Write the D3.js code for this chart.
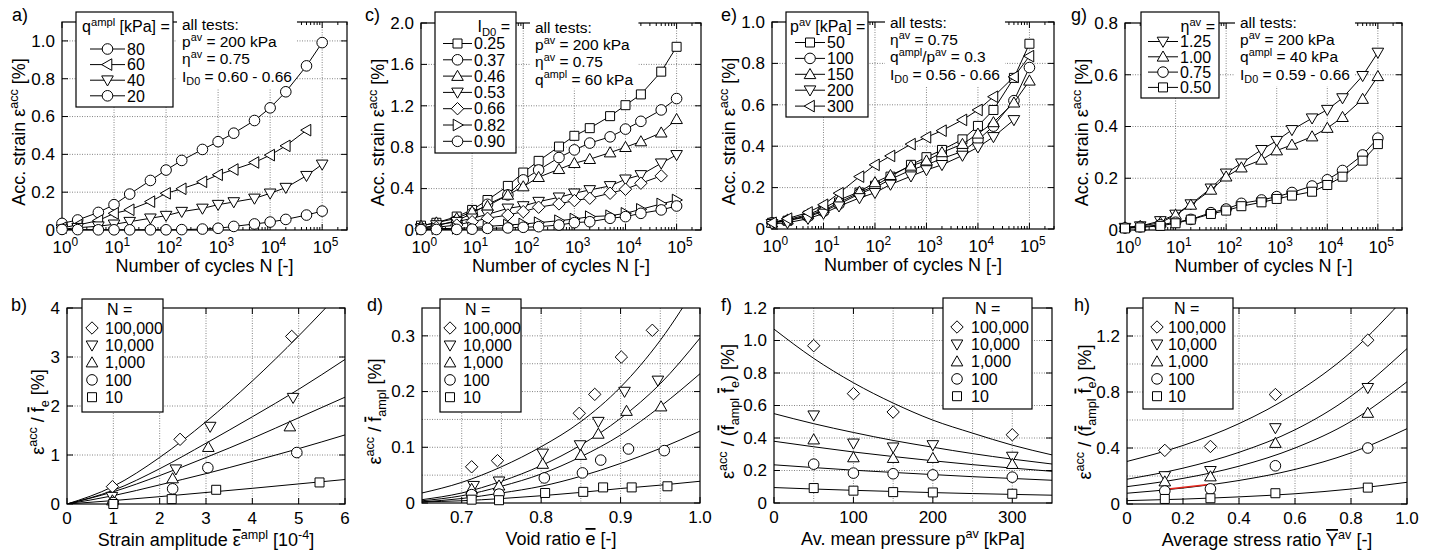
<!DOCTYPE html>
<html>
<head>
<meta charset="UTF-8">
<script src="https://d3js.org/d3.v7.min.js"></script>
<style>
  body { margin: 0; background: #fff; }
  svg { display: block; font-family: "Liberation Sans", Arial, Helvetica, sans-serif; }
  text { white-space: pre; }
</style>
</head>
<body>
<svg id="fig" width="1431" height="555"></svg>
<script>
// ---------------- data ----------------
const cycles = [1, 2, 5, 10, 20, 50, 100, 200, 500, 1000, 2000, 5000, 10000, 20000, 50000, 100000];

// a) influence of q^ampl
const aLabels = ["80", "60", "40", "20"];
const aSymbols = ["circle", "tri-left", "tri-down", "circle"];
const a80 = [0.035, 0.053, 0.093, 0.134, 0.19, 0.262, 0.317, 0.368, 0.426, 0.467, 0.512, 0.579, 0.646, 0.731, 0.868, 0.991];
const a60 = [0.012, 0.026, 0.05, 0.088, 0.107, 0.15, 0.194, 0.218, 0.255, 0.292, 0.32, 0.357, 0.396, 0.445, 0.528];
const a40 = [0.004, 0.012, 0.02, 0.03, 0.044, 0.062, 0.076, 0.097, 0.114, 0.134, 0.148, 0.167, 0.194, 0.224, 0.287, 0.347];
const a20 = [0.003, 0.002, 0.001, 0.001, 0.001, 0.001, 0.001, 0.002, 0.005, 0.009, 0.019, 0.032, 0.042, 0.056, 0.079, 0.10];

// c) influence of I_D0
const cLabels = ["0.25", "0.37", "0.46", "0.53", "0.66", "0.82", "0.90"];
const cSymbols = ["square", "circle", "tri-up", "tri-down", "diamond", "tri-right", "circle"];
const c025 = [0.042, 0.07, 0.13, 0.194, 0.29, 0.426, 0.555, 0.668, 0.806, 0.91, 0.984, 1.10, 1.206, 1.31, 1.53, 1.77];
const c037 = [0.016, 0.042, 0.09, 0.16, 0.248, 0.339, 0.484, 0.58, 0.70, 0.774, 0.84, 0.90, 0.975, 1.05, 1.16, 1.27];
const c046 = [0.039, 0.071, 0.113, 0.177, 0.232, 0.339, 0.42, 0.51, 0.587, 0.645, 0.684, 0.748, 0.80, 0.855, 0.94, 1.07];
const c053 = [0.016, 0.048, 0.08, 0.113, 0.151, 0.209, 0.232, 0.274, 0.316, 0.355, 0.387, 0.426, 0.49, 0.532, 0.645, 0.726];
const c066 = [0.013, 0.026, 0.048, 0.08, 0.113, 0.145, 0.177, 0.22, 0.252, 0.284, 0.307, 0.355, 0.394, 0.452, 0.523];
const c082 = [0.01, 0.013, 0.016, 0.022, 0.035, 0.048, 0.058, 0.071, 0.09, 0.106, 0.129, 0.138, 0.161, 0.2, 0.252, 0.29];
const c090 = [0.004, 0.005, 0.006, 0.008, 0.016, 0.02, 0.026, 0.032, 0.048, 0.071, 0.08, 0.113, 0.129, 0.161, 0.194, 0.232];

// e) influence of p^av
const eLabels = ["50", "100", "150", "200", "300"];
const eSymbols = ["square", "circle", "tri-up", "tri-down", "tri-left"];
const e50 = [0.03, 0.04, 0.065, 0.09, 0.128, 0.176, 0.209, 0.253, 0.31, 0.347, 0.382, 0.433, 0.498, 0.575, 0.73, 0.895];
const e100 = [0.03, 0.04, 0.06, 0.085, 0.12, 0.17, 0.2, 0.24, 0.285, 0.31, 0.34, 0.375, 0.43, 0.497, 0.62, 0.78];
const e150 = [0.03, 0.045, 0.07, 0.1, 0.14, 0.18, 0.225, 0.26, 0.305, 0.33, 0.37, 0.41, 0.46, 0.515, 0.61, 0.716];
const e200 = [0.025, 0.03, 0.05, 0.075, 0.11, 0.15, 0.175, 0.215, 0.255, 0.285, 0.31, 0.355, 0.395, 0.445, 0.527];
const e300 = [0.03, 0.05, 0.08, 0.117, 0.173, 0.253, 0.31, 0.353, 0.41, 0.443, 0.475, 0.527, 0.575, 0.639, 0.735, 0.835];

// g) influence of eta^av
const gLabels = ["1.25", "1.00", "0.75", "0.50"];
const gSymbols = ["tri-down", "tri-up", "circle", "square"];
const g125 = [0.009, 0.015, 0.035, 0.06, 0.1, 0.161, 0.219, 0.258, 0.31, 0.345, 0.387, 0.432, 0.465, 0.51, 0.596, 0.686];
const g100 = [0.01, 0.015, 0.028, 0.058, 0.097, 0.155, 0.206, 0.241, 0.271, 0.307, 0.329, 0.361, 0.394, 0.436, 0.506, 0.594];
const g075 = [0.008, 0.012, 0.02, 0.03, 0.041, 0.067, 0.081, 0.103, 0.116, 0.129, 0.145, 0.17, 0.194, 0.23, 0.29, 0.355];
const g050 = [0.006, 0.01, 0.016, 0.026, 0.04, 0.062, 0.075, 0.092, 0.107, 0.12, 0.133, 0.148, 0.174, 0.206, 0.268, 0.332];

// bottom row: N legend
const nLabels = ["100,000", "10,000", "1,000", "100", "10"];
const nSymbols = ["diamond", "tri-down", "tri-up", "circle", "square"];

// b) strain amplitude
const bX = [[0.98, 2.44, 4.85], [0.97, 2.35, 3.09, 4.88], [0.98, 2.28, 3.05, 4.81], [1.0, 2.28, 3.04, 4.96], [1.0, 2.26, 3.22, 5.45]];
const bY = [[0.354, 1.32, 3.42], [0.15, 0.71, 1.58, 2.17], [0.07, 0.52, 1.16, 1.58], [0.03, 0.31, 0.74, 1.05], [0.0, 0.1, 0.29, 0.44]];
const bFitX = [0, 1, 2, 3, 4, 5, 6];
const bFitY = [
  [0, 0.36, 0.95, 1.68, 2.51, 3.43, 4.42],
  [0, 0.28, 0.72, 1.24, 1.78, 2.34, 2.95],
  [0, 0.25, 0.58, 0.95, 1.34, 1.76, 2.18],
  [0, 0.17, 0.39, 0.62, 0.87, 1.13, 1.41],
  [0, 0.07, 0.15, 0.235, 0.32, 0.41, 0.50]
];

// d) void ratio
const dX = [
  [0.7125, 0.745, 0.848, 0.8675, 0.901, 0.94],
  [0.715, 0.747, 0.802, 0.849, 0.872, 0.905, 0.947],
  [0.7125, 0.747, 0.802, 0.85, 0.872, 0.9075, 0.951],
  [0.7125, 0.747, 0.804, 0.852, 0.875, 0.91, 0.955],
  [0.7125, 0.747, 0.805, 0.853, 0.878, 0.914, 0.959]
];
const dY = [
  [0.065, 0.076, 0.161, 0.195, 0.262, 0.31],
  [0.031, 0.039, 0.089, 0.104, 0.146, 0.2, 0.22],
  [0.025, 0.031, 0.07, 0.086, 0.124, 0.165, 0.173],
  [0.015, 0.016, 0.045, 0.054, 0.077, 0.097, 0.094],
  [0.006, 0.005, 0.018, 0.02, 0.028, 0.028, 0.03]
];
const dFitX = [0.65, 0.7, 0.75, 0.8, 0.85, 0.9, 0.95, 1.0];
const dFitY = [
  [0.018, 0.037, 0.065, 0.101, 0.146, 0.208, 0.292, 0.40],
  [0.006, 0.018, 0.039, 0.067, 0.104, 0.152, 0.214, 0.296],
  [0.004, 0.013, 0.03, 0.052, 0.083, 0.122, 0.173, 0.232],
  [0.002, 0.008, 0.018, 0.03, 0.048, 0.071, 0.098, 0.129],
  [0.002, 0.004, 0.008, 0.013, 0.019, 0.026, 0.032, 0.039]
];

// f) mean pressure
const fX = [[50, 100, 150, 300], [50, 100, 150, 200, 300], [50, 100, 150, 200, 300], [50, 100, 150, 200, 300], [50, 100, 150, 200, 300]];
const fY = [
  [0.968, 0.673, 0.56, 0.42],
  [0.54, 0.367, 0.343, 0.357, 0.286],
  [0.39, 0.28, 0.276, 0.276, 0.239],
  [0.239, 0.184, 0.18, 0.173, 0.159],
  [0.092, 0.076, 0.067, 0.065, 0.057]
];
const fFitX = [0, 50, 100, 150, 200, 250, 300, 350];
const fFitY = [
  [1.07, 0.89, 0.74, 0.615, 0.51, 0.43, 0.356, 0.296],
  [0.55, 0.488, 0.434, 0.385, 0.343, 0.304, 0.27, 0.24],
  [0.38, 0.346, 0.314, 0.286, 0.26, 0.236, 0.215, 0.195],
  [0.235, 0.218, 0.202, 0.188, 0.175, 0.162, 0.151, 0.14],
  [0.095, 0.086, 0.078, 0.071, 0.064, 0.058, 0.053, 0.048]
];

// h) average stress ratio
const hX = [0.135, 0.298, 0.53, 0.86];
const hY = [
  [0.383, 0.411, 0.782, 1.17],
  [0.2, 0.237, 0.543, 0.83],
  [0.16, 0.196, 0.435, 0.65],
  [0.093, 0.108, 0.273, 0.4],
  [0.036, 0.041, 0.077, 0.117]
];
const hFitX = [0, 0.2, 0.4, 0.6, 0.8, 1.0];
const hFitY = [
  [0.304, 0.418, 0.574, 0.79, 1.085, 1.49],
  [0.177, 0.256, 0.369, 0.53, 0.77, 1.11],
  [0.124, 0.183, 0.27, 0.4, 0.59, 0.873],
  [0.077, 0.114, 0.168, 0.247, 0.365, 0.538],
  [0.024, 0.035, 0.051, 0.073, 0.107, 0.155]
];
const hRedX = [0.14, 0.3];
const hRedY = [0.105, 0.141];

// ---------------- helpers ----------------
const svg = d3.select("#fig");
const TICK_FS = 17, TITLE_FS = 18, LEG_FS = 16, NOTE_FS = 15.5;

// markup: ^{sup}  _{sub}  ~{overlined}
function rich(el, str, fs) {
  const parts = str.split(/(\^\{[^}]*\}|_\{[^}]*\}|~\{[^}]*\})/).filter(s => s !== "");
  let cur = 0;
  parts.forEach(p => {
    let off = 0, size = fs, txt = p, over = false;
    if (p.startsWith("^{")) { off = -0.4 * fs; size = 0.7 * fs; txt = p.slice(2, -1); }
    else if (p.startsWith("_{")) { off = 0.25 * fs; size = 0.7 * fs; txt = p.slice(2, -1); }
    else if (p.startsWith("~{")) { txt = p.slice(2, -1); over = true; }
    const t = el.append("tspan").attr("dy", off - cur).attr("font-size", size).text(txt);
    if (over) t.style("text-decoration", "overline");
    cur = off;
  });
  return el;
}

function sym(type) {
  const s = 5.3;
  switch (type) {
    case "circle": return `M${s},0A${s},${s} 0 1,1 ${-s},0A${s},${s} 0 1,1 ${s},0Z`;
    case "square": { const h = 4.5; return `M${-h},${-h}H${h}V${h}H${-h}Z`; }
    case "diamond": { const d = 6.2; return `M0,${-d}L${d},0L0,${d}L${-d},0Z`; }
    case "tri-up": return "M0,-5.8L5.8,4.3L-5.8,4.3Z";
    case "tri-down": return "M0,5.8L5.8,-4.3L-5.8,-4.3Z";
    case "tri-left": return "M-5.8,0L4.3,-5.8L4.3,5.8Z";
    case "tri-right": return "M5.8,0L-4.3,-5.8L-4.3,5.8Z";
  }
}

function panel(o) {
  const x = o.xScale.range([o.L, o.R]);
  const y = d3.scaleLinear().domain(o.yDomain).range([o.B, o.T]);
  const g = svg.append("g");
  svg.append("clipPath").attr("id", "clip-" + o.id).append("rect")
    .attr("x", o.L).attr("y", o.T).attr("width", o.R - o.L).attr("height", o.B - o.T);

  // grid
  g.selectAll(".gx").data(o.xGrid).join("line")
    .attr("x1", d => x(d)).attr("x2", d => x(d)).attr("y1", o.T).attr("y2", o.B)
    .attr("stroke", "#666").attr("stroke-width", 0.8).attr("stroke-dasharray", "1,1.5");
  g.selectAll(".gy").data(o.yGrid).join("line")
    .attr("y1", d => y(d)).attr("y2", d => y(d)).attr("x1", o.L).attr("x2", o.R)
    .attr("stroke", "#666").attr("stroke-width", 0.8).attr("stroke-dasharray", "1,1.5");

  // ticks (inward, all four sides)
  const tk = g.append("g").attr("stroke", "#000").attr("stroke-width", 1);
  o.xTicks.forEach(v => {
    tk.append("line").attr("x1", x(v)).attr("x2", x(v)).attr("y1", o.B).attr("y2", o.B - 6);
    tk.append("line").attr("x1", x(v)).attr("x2", x(v)).attr("y1", o.T).attr("y2", o.T + 6);
  });
  (o.xMinor || []).forEach(v => {
    tk.append("line").attr("x1", x(v)).attr("x2", x(v)).attr("y1", o.B).attr("y2", o.B - 3);
    tk.append("line").attr("x1", x(v)).attr("x2", x(v)).attr("y1", o.T).attr("y2", o.T + 3);
  });
  o.yTicks.forEach(v => {
    tk.append("line").attr("y1", y(v)).attr("y2", y(v)).attr("x1", o.L).attr("x2", o.L + 6);
    tk.append("line").attr("y1", y(v)).attr("y2", y(v)).attr("x1", o.R).attr("x2", o.R - 6);
  });

  g.append("rect").attr("x", o.L).attr("y", o.T).attr("width", o.R - o.L).attr("height", o.B - o.T)
    .attr("fill", "none").attr("stroke", "#000").attr("stroke-width", 1.2);

  // tick labels
  o.xTicks.forEach(v => {
    if (o.log) {
      // "10" centred on the tick, exponent hanging to the right
      const t = g.append("text").attr("x", x(v) - 1.112 * TICK_FS / 2).attr("y", o.B + 23)
        .attr("font-size", TICK_FS);
      rich(t, o.xFmt(v), TICK_FS);
    } else {
      const t = g.append("text").attr("x", x(v)).attr("y", o.B + 20)
        .attr("text-anchor", "middle").attr("font-size", TICK_FS);
      rich(t, o.xFmt(v), TICK_FS);
    }
  });
  o.yTicks.forEach(v => {
    g.append("text").attr("x", o.L - 7).attr("y", y(v)).attr("dy", "0.34em")
      .attr("text-anchor", "end").attr("font-size", TICK_FS).text(o.yFmt(v));
  });

  // titles
  const xt = g.append("text").attr("x", (o.L + o.R) / 2).attr("y", o.B + 42)
    .attr("text-anchor", "middle").attr("font-size", TITLE_FS);
  rich(xt, o.xTitle, TITLE_FS);
  const yg = g.append("g").attr("transform", `translate(${o.yTitleX},${(o.T + o.B) / 2 + 6}) rotate(-90)`);
  rich(yg.append("text").attr("x", 0).attr("y", 0.36 * TITLE_FS).attr("text-anchor", "middle")
    .attr("font-size", TITLE_FS), o.yTitle, TITLE_FS);

  g.append("text").attr("x", o.labX).attr("y", o.labY).attr("font-size", TITLE_FS).text(o.id + ")");

  return { x, y, clip: `url(#clip-${o.id})`, o };
}

const decades = [1, 10, 100, 1000, 10000, 100000];
const minorN = [];
decades.forEach(d => { for (let m = 2; m <= 9; m++) if (d * m <= 3e5) minorN.push(d * m); });
const logFmt = v => "10^{" + Math.round(Math.log10(v)) + "}";
const dec1 = v => v === 0 ? "0" : d3.format(".1f")(v);

function topPanel(id, box, yMax, yStep, yTitleX, labX) {
  const yt = d3.range(0, yMax + 1e-9, yStep).map(v => +v.toFixed(3));
  const yg = yt.filter(v => v > 0 && v < yMax - 1e-9);
  return panel({
    id, L: box[0], R: box[1], T: box[2], B: box[3], log: true,
    xScale: d3.scaleLog().domain([1, 3e5]), yDomain: [0, yMax],
    xTicks: decades, xMinor: minorN, xGrid: decades.slice(1),
    yTicks: yt, yGrid: yg,
    xFmt: logFmt, yFmt: dec1,
    xTitle: "Number of cycles N [-]", yTitle: "Acc. strain \u03b5^{acc} [%]",
    yTitleX, labX, labY: 21
  });
}

// ---------------- panels (axes, grid) ----------------
const pa = topPanel("a", [62, 347, 22, 230], 1.1, 0.2, 19, 12);
const pc = topPanel("c", [421, 701, 23, 230], 2.0, 0.4, 378, 365);
const pe = topPanel("e", [772, 1054, 22, 229], 1.0, 0.2, 729, 721);
const pg = topPanel("g", [1125, 1402, 23, 230], 0.8, 0.2, 1082, 1071);

const pb = panel({
  id: "b", L: 67, R: 345, T: 308, B: 504,
  xScale: d3.scaleLinear().domain([0, 6]), yDomain: [0, 4],
  xTicks: [0, 1, 2, 3, 4, 5, 6], xGrid: [1, 2, 3, 4, 5],
  yTicks: [0, 1, 2, 3, 4], yGrid: [1, 2, 3],
  xFmt: v => String(v), yFmt: v => String(v),
  xTitle: "Strain amplitude ~{\u03b5}^{ampl} [10^{-4}]", yTitle: "\u03b5^{acc} / ~{f}_{e} [%]",
  yTitleX: 38, labX: 11, labY: 311
});
const pd = panel({
  id: "d", L: 422, R: 700, T: 308, B: 503,
  xScale: d3.scaleLinear().domain([0.65, 1.0]), yDomain: [0, 0.35],
  xTicks: [0.7, 0.8, 0.9, 1.0], xGrid: [0.7, 0.75, 0.8, 0.85, 0.9, 0.95],
  yTicks: [0, 0.1, 0.2, 0.3], yGrid: [0.05, 0.1, 0.15, 0.2, 0.25, 0.3],
  xFmt: v => d3.format(".1f")(v), yFmt: dec1,
  xTitle: "Void ratio ~{e} [-]", yTitle: "\u03b5^{acc} / ~{f}_{ampl} [%]",
  yTitleX: 375, labX: 367, labY: 311
});
const pf = panel({
  id: "f", L: 774, R: 1052, T: 308, B: 503,
  xScale: d3.scaleLinear().domain([0, 350]), yDomain: [0, 1.2],
  xTicks: [0, 100, 200, 300], xGrid: [50, 100, 150, 200, 250, 300],
  yTicks: [0, 0.2, 0.4, 0.6, 0.8, 1.0, 1.2], yGrid: [0.2, 0.4, 0.6, 0.8, 1.0],
  xFmt: v => String(v), yFmt: dec1,
  xTitle: "Av. mean pressure p^{av} [kPa]", yTitle: "\u03b5^{acc} / (~{f}_{ampl} ~{f}_{e}) [%]",
  yTitleX: 728, labX: 721, labY: 311
});
const ph = panel({
  id: "h", L: 1127, R: 1407, T: 308, B: 504,
  xScale: d3.scaleLinear().domain([0, 1.0]), yDomain: [0, 1.4],
  xTicks: [0, 0.2, 0.4, 0.6, 0.8, 1.0], xGrid: [0.2, 0.4, 0.6, 0.8],
  yTicks: [0, 0.4, 0.8, 1.2], yGrid: [0.2, 0.4, 0.6, 0.8, 1.0, 1.2],
  xFmt: dec1, yFmt: dec1,
  xTitle: "Average stress ratio ~{Y}^{av} [-]", yTitle: "\u03b5^{acc} / (~{f}_{ampl} ~{f}_{e}) [%]",
  yTitleX: 1085, labX: 1074, labY: 311
});

// layers: backgrounds / legends, data, annotation text
const bgLayer = svg.append("g");
const dataLayer = svg.append("g");
const textLayer = svg.append("g");

function lineSeries(p, xs, ys, type) {
  const line = d3.line().x((d, i) => p.x(xs[i])).y(d => p.y(d));
  dataLayer.append("path").attr("d", line(ys)).attr("fill", "none").attr("stroke", "#000").attr("stroke-width", 1);
  dataLayer.append("g").selectAll("path").data(ys).join("path")
    .attr("transform", (d, i) => `translate(${p.x(xs[i])},${p.y(d)})`)
    .attr("d", sym(type)).attr("fill", "#fff").attr("stroke", "#000").attr("stroke-width", 1);
}

function fitCurve(p, xs, ys, color) {
  const line = d3.line().x((d, i) => p.x(xs[i])).y(d => p.y(d)).curve(d3.curveMonotoneX);
  dataLayer.append("path").attr("d", line(ys)).attr("clip-path", p.clip)
    .attr("fill", "none").attr("stroke", color || "#000").attr("stroke-width", color ? 1.5 : 1);
}

function points(p, xs, ys, type) {
  dataLayer.append("g").selectAll("path").data(ys).join("path")
    .attr("transform", (d, i) => `translate(${p.x(xs[i])},${p.y(d)})`)
    .attr("d", sym(type)).attr("fill", "#fff").attr("stroke", "#000").attr("stroke-width", 1);
}

function topLegend(box, header, hx, hAnchor, labels, types, row0, dRow, lx0, lx1, tx) {
  const g = bgLayer.append("g");
  g.append("rect").attr("x", box[0]).attr("y", box[1]).attr("width", box[2] - box[0]).attr("height", box[3] - box[1])
    .attr("fill", "#fff").attr("stroke", "#000").attr("stroke-width", 1.2);
  rich(g.append("text").attr("x", hx).attr("y", box[1] + 20).attr("text-anchor", hAnchor).attr("font-size", LEG_FS), header, LEG_FS);
  labels.forEach((lab, i) => {
    const yy = row0 + i * dRow;
    g.append("line").attr("x1", lx0).attr("x2", lx1).attr("y1", yy).attr("y2", yy).attr("stroke", "#000");
    g.append("path").attr("transform", `translate(${(lx0 + lx1) / 2},${yy})`).attr("d", sym(types[i]))
      .attr("fill", "#fff").attr("stroke", "#000");
    g.append("text").attr("x", tx).attr("y", yy).attr("dy", "0.36em").attr("font-size", LEG_FS).text(lab);
  });
}

function nLegend(box, hx, mx, tx) {
  const g = bgLayer.append("g");
  g.append("rect").attr("x", box[0]).attr("y", box[1]).attr("width", box[2] - box[0]).attr("height", box[3] - box[1])
    .attr("fill", "#fff").attr("stroke", "#000").attr("stroke-width", 1.2);
  g.append("text").attr("x", hx).attr("y", box[1] + 16).attr("font-size", LEG_FS).text("N =");
  nLabels.forEach((lab, i) => {
    const yy = box[1] + 29 + i * 17.3;
    g.append("path").attr("transform", `translate(${mx},${yy})`).attr("d", sym(nSymbols[i]))
      .attr("fill", "#fff").attr("stroke", "#000");
    g.append("text").attr("x", tx).attr("y", yy).attr("dy", "0.36em").attr("font-size", LEG_FS).text(lab);
  });
}

function note(x, y0, lines) {
  const g = textLayer.append("g");
  lines.forEach((s, i) => rich(g.append("text").attr("x", x).attr("y", y0 + i * 17.2).attr("font-size", NOTE_FS), s, NOTE_FS));
  const bb = g.node().getBBox();
  bgLayer.append("rect").attr("x", bb.x - 5).attr("y", bb.y - 6).attr("width", bb.width + 10)
    .attr("height", bb.height + 7).attr("fill", "#fff");
}

// ---------------- legends and notes ----------------
topLegend([76, 12, 173, 107], "q^{ampl} [kPa] =", 82, "start", aLabels, aSymbols, 49, 15.6, 90, 125, 127);
topLegend([435, 12, 516, 153], "I_{D0} =", 510, "end", cLabels, cSymbols, 43.5, 16.3, 443, 472, 474);
topLegend([786, 12, 868, 117], "p^{av} [kPa] =", 790, "start", eLabels, eSymbols, 42.5, 15.9, 795, 825, 827);
topLegend([1141, 12, 1219, 98], "\u03b7^{av} =", 1215, "end", gLabels, gSymbols, 41.5, 15.3, 1148, 1178, 1180);

note(182, 30, ["all tests:", "p^{av} = 200 kPa", "\u03b7^{av} = 0.75", "I_{D0} = 0.60 - 0.66"]);
note(535, 33, ["all tests:", "p^{av} = 200 kPa", "\u03b7^{av} = 0.75", "q^{ampl} = 60 kPa"]);
note(890, 28, ["all tests:", "\u03b7^{av} = 0.75", "q^{ampl}/p^{av} = 0.3", "I_{D0} = 0.56 - 0.66"]);
note(1240, 28, ["all tests:", "p^{av} = 200 kPa", "q^{ampl} = 40 kPa", "I_{D0} = 0.59 - 0.66"]);

nLegend([82, 299, 163, 412], 107, 92, 105);
nLegend([440, 299, 521, 412], 465, 450, 463);
nLegend([943, 298, 1032, 409], 975, 957, 971);
nLegend([1143, 298, 1233, 409], 1174, 1157, 1168);

// ---------------- data ----------------
[a80, a60, a40, a20].forEach((s, i) => lineSeries(pa, cycles, s, aSymbols[i]));
[c025, c037, c046, c053, c066, c082, c090].forEach((s, i) => lineSeries(pc, cycles, s, cSymbols[i]));
[e50, e100, e150, e200, e300].forEach((s, i) => lineSeries(pe, cycles, s, eSymbols[i]));
[g125, g100, g075, g050].forEach((s, i) => lineSeries(pg, cycles, s, gSymbols[i]));

bFitY.forEach(c => fitCurve(pb, bFitX, c));
bX.forEach((xs, i) => points(pb, xs, bY[i], nSymbols[i]));

dFitY.forEach(c => fitCurve(pd, dFitX, c));
dX.forEach((xs, i) => points(pd, xs, dY[i], nSymbols[i]));

fFitY.forEach(c => fitCurve(pf, fFitX, c));
fX.forEach((xs, i) => points(pf, xs, fY[i], nSymbols[i]));

hFitY.forEach(c => fitCurve(ph, hFitX, c));
fitCurve(ph, hRedX, hRedY, "#e3261c");
hY.forEach((ys, i) => points(ph, hX, ys, nSymbols[i]));
</script>
</body>
</html>
